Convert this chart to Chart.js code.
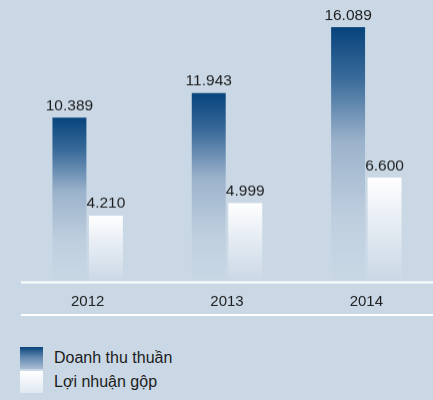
<!DOCTYPE html>
<html>
<head>
<meta charset="utf-8">
<script src="https://cdn.jsdelivr.net/npm/chart.js@4.4.1/dist/chart.umd.min.js"></script>
<style>
body { margin: 0; width: 433px; height: 400px; overflow: hidden; background: #cad8e5; font-family: "Liberation Sans", Arial, sans-serif; }
#wrap { position: absolute; left: 0; top: 0; width: 436px; height: 331.5px; }
#legend { position: absolute; left: 20px; top: 346px; }
.item { display: flex; align-items: center; height: 24px; font-size: 16px; color: #1c1c1c; }
.box { width: 23px; height: 22px; margin-right: 11px; }
</style>
</head>
<body>
<div id="wrap"><canvas id="salesChart"></canvas></div>
<div id="legend"></div>
<script>
// Data
const years = ['2012', '2013', '2014'];
const revenue = [10389, 11943, 16089];
const grossProfit = [4210, 4999, 6600];
const seriesNames = ['Doanh thu thuần', 'Lợi nhuận gộp'];

const bg = '#cad8e5';
const revenueStops = [[0, '#07447c'], [0.2, '#3a6b9a'], [0.45, '#9cb3cc'], [0.75, '#bfcfdf'], [1, bg]];
const profitStops = [[0, '#ffffff'], [0.5, '#e3eaf2'], [1, bg]];

// 10389 -> "10.389"
const fmt = v => String(v).replace(/\B(?=(\d{3})+(?!\d))/g, '.');

function barGradient(context, stops) {
    const chart = context.chart;
    if (!chart.chartArea || context.type !== 'data') return stops[0][1];
    const y = chart.scales.y;
    const top = y.getPixelForValue(context.raw);
    const bottom = y.getPixelForValue(0);
    const g = chart.ctx.createLinearGradient(0, top, 0, bottom);
    stops.forEach(s => g.addColorStop(s[0], s[1]));
    return g;
}

// value labels over the bars
const valueLabels = {
    id: 'valueLabels',
    afterDatasetsDraw(chart) {
        const ctx = chart.ctx;
        ctx.save();
        ctx.font = '15.5px "Liberation Sans", Arial, sans-serif';
        ctx.fillStyle = '#1c1c1c';
        ctx.textAlign = 'center';
        ctx.textBaseline = 'alphabetic';
        chart.data.datasets.forEach((ds, i) => {
            chart.getDatasetMeta(i).data.forEach((bar, j) => {
                ctx.fillText(fmt(ds.data[j]), bar.x, bar.y - 7.5);
            });
        });
        ctx.restore();
    }
};

// white axis rule and the rule under the years
const rules = {
    id: 'rules',
    afterDraw(chart) {
        const ctx = chart.ctx;
        const yAxis = chart.chartArea.bottom;
        ctx.save();
        ctx.strokeStyle = '#ffffff';
        ctx.lineWidth = 2;
        [yAxis, yAxis + 32.5].forEach(y => {
            ctx.beginPath();
            ctx.moveTo(21, y);
            ctx.lineTo(436, y);
            ctx.stroke();
        });
        ctx.restore();
    }
};

new Chart(document.getElementById('salesChart'), {
    type: 'bar',
    data: {
        labels: years,
        datasets: [{
            label: seriesNames[0],
            data: revenue,
            backgroundColor: c => barGradient(c, revenueStops)
        }, {
            label: seriesNames[1],
            data: grossProfit,
            backgroundColor: c => barGradient(c, profitStops)
        }]
    },
    options: {
        responsive: true,
        maintainAspectRatio: false,
        animation: false,
        categoryPercentage: 0.524,
        barPercentage: 0.93,
        layout: { padding: { left: 18, right: 0, top: 0, bottom: 12 } },
        plugins: { legend: { display: false }, tooltip: { enabled: false } },
        scales: {
            x: {
                grid: { display: false, drawTicks: false },
                border: { display: false },
                ticks: { color: '#1c1c1c', padding: 10, font: { family: '"Liberation Sans", Arial, sans-serif', size: 15 } }
            },
            y: {
                display: false,
                min: 0,
                max: 17800
            }
        }
    },
    plugins: [valueLabels, rules]
});

// Legend
const legend = document.getElementById('legend');
const boxGradients = [
    'linear-gradient(#07447c, #5f85ad 45%, #a9bed4)',
    'linear-gradient(#ffffff, #dfe7f0)'
];
seriesNames.forEach((name, i) => {
    const item = document.createElement('div');
    item.className = 'item';
    const box = document.createElement('div');
    box.className = 'box';
    box.style.background = boxGradients[i];
    item.appendChild(box);
    item.appendChild(document.createTextNode(name));
    legend.appendChild(item);
});
</script>
</body>
</html>
